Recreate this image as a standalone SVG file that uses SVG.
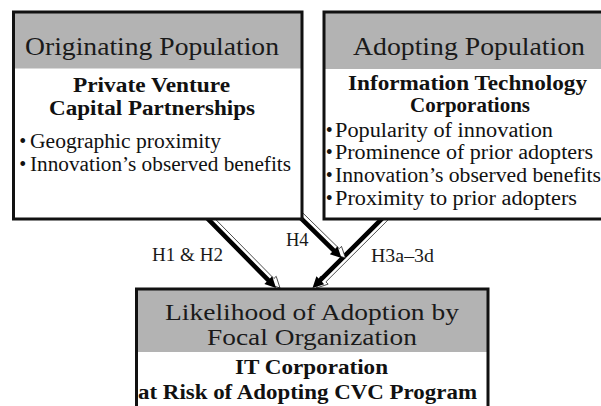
<svg xmlns="http://www.w3.org/2000/svg" width="601" height="406" viewBox="0 0 601 406">
  <style>
    .bg { fill: #ffffff; }
    .hdr { fill: #b3b3b3; }
    .frame { fill: none; stroke: #111111; stroke-width: 3; }
    .t-hdr { font-family: 'Liberation Serif', 'DejaVu Serif', serif; font-size: 25px; fill: #1a1a1a; }
    .t-hdr2 { font-family: 'Liberation Serif', 'DejaVu Serif', serif; font-size: 22.5px; fill: #1a1a1a; }
    .t-sub { font-family: 'Liberation Serif', 'DejaVu Serif', serif; font-size: 20.5px; font-weight: bold; fill: #111111; }
    .t-item { font-family: 'Liberation Serif', 'DejaVu Serif', serif; font-size: 20px; fill: #111111; }
    .lbl { font-family: 'Liberation Serif', serif; font-size: 18.5px; fill: #1a1a1a; }
    .arrow { fill: #000000; }
    .shadow { fill: #ffffff; stroke: #222222; stroke-width: 0.8; }
  </style>

  <rect class="bg" x="0" y="0" width="601" height="406"/>

  <!-- connectors: white outlined shadow offset to the right, solid black arrow on top -->
  <g id="connectors">
    <g id="edge-h1h2">
      <polygon class="shadow" transform="translate(4,0)" points="202.62,210.27 269.92,278.56 272.20,276.31 276,288 264.36,284.03 266.64,281.78 199.34,213.49"/>
      <polygon class="arrow" points="202.62,210.27 269.92,278.56 272.20,276.31 276,288 264.36,284.03 266.64,281.78 199.34,213.49"/>
    </g>
    <g id="edge-h3">
      <polygon class="shadow" transform="translate(4,0)" points="390.40,213.57 321.91,281.86 324.17,284.13 312.5,288 316.41,276.34 318.67,278.60 387.16,210.31"/>
      <polygon class="arrow" points="390.40,213.57 321.91,281.86 324.17,284.13 312.5,288 316.41,276.34 318.67,278.60 387.16,210.31"/>
    </g>
    <g id="edge-h4">
      <polygon class="shadow" transform="translate(4,0)" points="297.60,211.76 335.25,248.66 337.49,246.37 341.5,258 329.79,254.23 332.03,251.94 294.38,215.04"/>
      <polygon class="arrow" points="297.60,211.76 335.25,248.66 337.49,246.37 341.5,258 329.79,254.23 332.03,251.94 294.38,215.04"/>
    </g>
    <text class="lbl" x="152" y="261" textLength="71" lengthAdjust="spacingAndGlyphs">H1 &amp; H2</text>
    <text class="lbl" x="286" y="246">H4</text>
    <text class="lbl" x="371" y="262" textLength="63" lengthAdjust="spacingAndGlyphs">H3a–3d</text>
  </g>

  <!-- originating population -->
  <g id="node-originating">
    <rect class="bg" x="13.5" y="12" width="288.5" height="207"/>
    <rect class="hdr" x="13.5" y="12" width="288.5" height="56.5"/>
    <rect class="frame" x="13.5" y="12" width="288.5" height="207"/>
    <text class="t-hdr" x="25" y="54.5" textLength="254" lengthAdjust="spacingAndGlyphs">Originating Population</text>
    <text class="t-sub" x="73" y="92" textLength="157" lengthAdjust="spacingAndGlyphs">Private Venture</text>
    <text class="t-sub" x="49" y="115" textLength="206" lengthAdjust="spacingAndGlyphs">Capital Partnerships</text>
    <text class="t-item" x="19.3" y="148">•</text>
    <text class="t-item" x="30" y="148" textLength="191" lengthAdjust="spacingAndGlyphs">Geographic proximity</text>
    <text class="t-item" x="19.3" y="171">•</text>
    <text class="t-item" x="30" y="171" textLength="261" lengthAdjust="spacingAndGlyphs">Innovation’s observed benefits</text>
  </g>

  <!-- adopting population -->
  <g id="node-adopting">
    <rect class="bg" x="324" y="12" width="281" height="207"/>
    <rect class="hdr" x="324" y="12" width="281" height="57"/>
    <rect class="frame" x="324" y="12" width="281" height="207"/>
    <text class="t-hdr" x="353" y="54.5" textLength="232" lengthAdjust="spacingAndGlyphs">Adopting Population</text>
    <text class="t-sub" x="348" y="89.5" textLength="239" lengthAdjust="spacingAndGlyphs">Information Technology</text>
    <text class="t-sub" x="410" y="111.5" textLength="120" lengthAdjust="spacingAndGlyphs">Corporations</text>
    <text class="t-item" x="325.7" y="136.5">•</text>
    <text class="t-item" x="335" y="136.5" textLength="218" lengthAdjust="spacingAndGlyphs">Popularity of innovation</text>
    <text class="t-item" x="325.7" y="159.3">•</text>
    <text class="t-item" x="335" y="159.3" textLength="258" lengthAdjust="spacingAndGlyphs">Prominence of prior adopters</text>
    <text class="t-item" x="325.7" y="182.2">•</text>
    <text class="t-item" x="335" y="182.2" textLength="266" lengthAdjust="spacingAndGlyphs">Innovation’s observed benefits</text>
    <text class="t-item" x="325.7" y="205">•</text>
    <text class="t-item" x="335" y="205" textLength="242" lengthAdjust="spacingAndGlyphs">Proximity to prior adopters</text>
  </g>

  <!-- focal organization -->
  <g id="node-focal">
    <rect class="bg" x="136.5" y="289" width="351.5" height="140"/>
    <rect class="hdr" x="136.5" y="289" width="351.5" height="63"/>
    <rect class="frame" x="136.5" y="289" width="351.5" height="140"/>
    <text class="t-hdr2" x="165" y="319.5" textLength="294" lengthAdjust="spacingAndGlyphs">Likelihood of Adoption by</text>
    <text class="t-hdr2" x="207" y="344.5" textLength="210" lengthAdjust="spacingAndGlyphs">Focal Organization</text>
    <text class="t-sub" x="235" y="374" textLength="153" lengthAdjust="spacingAndGlyphs">IT Corporation</text>
    <text class="t-sub" x="138" y="399" textLength="339" lengthAdjust="spacingAndGlyphs">at Risk of Adopting CVC Program</text>
  </g>
</svg>
